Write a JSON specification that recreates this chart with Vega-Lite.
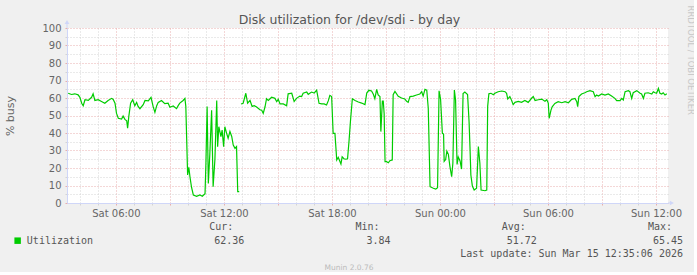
{
  "$schema": "https://vega.github.io/schema/vega-lite/v6.json",
  "background": "#F0F0F0",
  "padding": {"left": 4, "top": 5, "right": 0, "bottom": 0},
  "spacing": 4,
  "config": {
    "font": "DejaVu Sans",
    "view": {"stroke": null},
    "axis": {"labelFont": "DejaVu Sans", "titleFont": "DejaVu Sans", "labelColor": "#666666", "titleColor": "#666666", "labelFontSize": 10, "titleFontWeight": "normal"}
  },
  "vconcat": [
    {
      "width": 601,
      "height": 175,
      "view": {"fill": "#FFFFFF", "stroke": null},
      "title": {"text": "Disk utilization for /dev/sdi - by day", "anchor": "middle", "frame": "bounds", "offset": -21, "fontSize": 12.5, "fontWeight": "normal", "color": "#555555", "font": "DejaVu Sans"},
      "resolve": {"axis": {"x": "independent", "y": "independent"}},
      "layer": [
        {
          "data": {"values": [
            {"t":"2026-03-14T03:21","v":62.7},{"t":"2026-03-14T03:32","v":62.0},{"t":"2026-03-14T03:43","v":62.4},{"t":"2026-03-14T03:54","v":61.8},
            {"t":"2026-03-14T04:00","v":60.4},{"t":"2026-03-14T04:06","v":57.0},{"t":"2026-03-14T04:11","v":55.6},{"t":"2026-03-14T04:17","v":59.0},
            {"t":"2026-03-14T04:28","v":58.6},{"t":"2026-03-14T04:39","v":60.4},{"t":"2026-03-14T04:44","v":62.4},{"t":"2026-03-14T04:50","v":58.6},
            {"t":"2026-03-14T05:01","v":59.0},{"t":"2026-03-14T05:12","v":58.0},{"t":"2026-03-14T05:23","v":57.0},{"t":"2026-03-14T05:34","v":58.6},
            {"t":"2026-03-14T05:46","v":59.8},{"t":"2026-03-14T05:51","v":59.2},{"t":"2026-03-14T05:57","v":57.0},{"t":"2026-03-14T06:02","v":51.2},
            {"t":"2026-03-14T06:08","v":48.4},{"t":"2026-03-14T06:19","v":48.0},{"t":"2026-03-14T06:24","v":49.7},{"t":"2026-03-14T06:30","v":47.8},
            {"t":"2026-03-14T06:36","v":47.0},{"t":"2026-03-14T06:39","v":42.7},{"t":"2026-03-14T06:43","v":49.5},{"t":"2026-03-14T06:49","v":57.0},
            {"t":"2026-03-14T06:56","v":59.0},{"t":"2026-03-14T07:03","v":55.6},{"t":"2026-03-14T07:09","v":57.5},{"t":"2026-03-14T07:14","v":55.2},
            {"t":"2026-03-14T07:20","v":53.9},{"t":"2026-03-14T07:31","v":56.2},{"t":"2026-03-14T07:37","v":58.6},{"t":"2026-03-14T07:48","v":58.4},
            {"t":"2026-03-14T07:57","v":60.4},{"t":"2026-03-14T08:04","v":55.2},{"t":"2026-03-14T08:10","v":51.8},{"t":"2026-03-14T08:16","v":55.6},
            {"t":"2026-03-14T08:21","v":57.5},{"t":"2026-03-14T08:32","v":58.6},{"t":"2026-03-14T08:43","v":56.8},{"t":"2026-03-14T08:54","v":57.0},
            {"t":"2026-03-14T09:00","v":54.7},{"t":"2026-03-14T09:11","v":55.4},{"t":"2026-03-14T09:22","v":53.9},{"t":"2026-03-14T09:28","v":55.8},
            {"t":"2026-03-14T09:33","v":57.1},{"t":"2026-03-14T09:44","v":58.6},{"t":"2026-03-14T09:50","v":59.8},{"t":"2026-03-14T09:53","v":55.2},
            {"t":"2026-03-14T09:59","v":16.0},{"t":"2026-03-14T10:03","v":20.4},{"t":"2026-03-14T10:07","v":14.7},{"t":"2026-03-14T10:12","v":9.0},
            {"t":"2026-03-14T10:18","v":4.6},{"t":"2026-03-14T10:29","v":3.84},{"t":"2026-03-14T10:40","v":4.6},{"t":"2026-03-14T10:48","v":3.9},
            {"t":"2026-03-14T10:57","v":5.3},{"t":"2026-03-14T11:00","v":22.7},{"t":"2026-03-14T11:04","v":55.2},{"t":"2026-03-14T11:08","v":11.2},
            {"t":"2026-03-14T11:13","v":28.0},{"t":"2026-03-14T11:19","v":53.0},{"t":"2026-03-14T11:24","v":9.3},{"t":"2026-03-14T11:30","v":25.0},
            {"t":"2026-03-14T11:36","v":58.6},{"t":"2026-03-14T11:39","v":32.2},{"t":"2026-03-14T11:43","v":43.6},{"t":"2026-03-14T11:50","v":37.9},
            {"t":"2026-03-14T11:54","v":41.7},{"t":"2026-03-14T11:59","v":32.2},{"t":"2026-03-14T12:03","v":43.6},{"t":"2026-03-14T12:09","v":39.8},
            {"t":"2026-03-14T12:14","v":37.0},{"t":"2026-03-14T12:20","v":40.9},{"t":"2026-03-14T12:26","v":38.0},{"t":"2026-03-14T12:31","v":33.1},
            {"t":"2026-03-14T12:37","v":31.2},{"t":"2026-03-14T12:42","v":32.2},{"t":"2026-03-14T12:46","v":6.5},{"t":"2026-03-14T12:51","v":6.5},
            {"t":"2026-03-14T12:54","v":null},
            {"t":"2026-03-14T12:57","v":56.6},{"t":"2026-03-14T13:04","v":57.0},{"t":"2026-03-14T13:13","v":62.7},{"t":"2026-03-14T13:19","v":57.0},
            {"t":"2026-03-14T13:27","v":58.6},{"t":"2026-03-14T13:34","v":55.2},{"t":"2026-03-14T13:41","v":55.6},{"t":"2026-03-14T13:49","v":54.9},
            {"t":"2026-03-14T14:00","v":53.3},{"t":"2026-03-14T14:06","v":53.0},{"t":"2026-03-14T14:11","v":51.2},{"t":"2026-03-14T14:17","v":55.0},
            {"t":"2026-03-14T14:22","v":59.6},{"t":"2026-03-14T14:28","v":58.6},{"t":"2026-03-14T14:39","v":60.4},{"t":"2026-03-14T14:50","v":59.8},
            {"t":"2026-03-14T14:56","v":57.9},{"t":"2026-03-14T15:01","v":59.2},{"t":"2026-03-14T15:07","v":56.6},{"t":"2026-03-14T15:18","v":56.6},
            {"t":"2026-03-14T15:29","v":55.6},{"t":"2026-03-14T15:34","v":62.4},{"t":"2026-03-14T15:46","v":62.7},{"t":"2026-03-14T15:54","v":58.0},
            {"t":"2026-03-14T16:02","v":59.8},{"t":"2026-03-14T16:13","v":61.1},{"t":"2026-03-14T16:19","v":60.8},{"t":"2026-03-14T16:24","v":62.7},
            {"t":"2026-03-14T16:36","v":63.4},{"t":"2026-03-14T16:41","v":62.1},{"t":"2026-03-14T16:52","v":63.4},{"t":"2026-03-14T17:01","v":62.8},
            {"t":"2026-03-14T17:09","v":64.5},{"t":"2026-03-14T17:17","v":57.0},{"t":"2026-03-14T17:26","v":56.6},{"t":"2026-03-14T17:34","v":56.6},
            {"t":"2026-03-14T17:42","v":56.0},{"t":"2026-03-14T17:48","v":58.5},{"t":"2026-03-14T17:53","v":61.5},{"t":"2026-03-14T17:59","v":60.8},
            {"t":"2026-03-14T18:04","v":39.8},{"t":"2026-03-14T18:10","v":39.8},{"t":"2026-03-14T18:16","v":24.6},{"t":"2026-03-14T18:21","v":26.1},
            {"t":"2026-03-14T18:27","v":23.6},{"t":"2026-03-14T18:30","v":22.3},{"t":"2026-03-14T18:34","v":26.4},{"t":"2026-03-14T18:40","v":25.3},
            {"t":"2026-03-14T18:46","v":25.0},{"t":"2026-03-14T18:52","v":25.3},{"t":"2026-03-14T18:57","v":35.6},{"t":"2026-03-14T19:02","v":47.4},
            {"t":"2026-03-14T19:08","v":59.6},{"t":"2026-03-14T19:17","v":58.6},{"t":"2026-03-14T19:28","v":57.7},{"t":"2026-03-14T19:39","v":57.1},
            {"t":"2026-03-14T19:50","v":56.2},{"t":"2026-03-14T19:56","v":62.8},{"t":"2026-03-14T20:03","v":64.4},{"t":"2026-03-14T20:12","v":64.0},
            {"t":"2026-03-14T20:18","v":62.1},{"t":"2026-03-14T20:23","v":59.6},{"t":"2026-03-14T20:29","v":64.9},{"t":"2026-03-14T20:34","v":61.7},
            {"t":"2026-03-14T20:40","v":60.8},{"t":"2026-03-14T20:43","v":40.8},{"t":"2026-03-14T20:48","v":58.3},{"t":"2026-03-14T20:51","v":58.3},
            {"t":"2026-03-14T20:54","v":51.0},{"t":"2026-03-14T20:57","v":23.6},{"t":"2026-03-14T21:02","v":23.6},{"t":"2026-03-14T21:08","v":23.0},
            {"t":"2026-03-14T21:13","v":24.2},{"t":"2026-03-14T21:21","v":24.6},{"t":"2026-03-14T21:24","v":61.9},{"t":"2026-03-14T21:30","v":63.8},
            {"t":"2026-03-14T21:41","v":61.0},{"t":"2026-03-14T21:52","v":60.0},{"t":"2026-03-14T22:03","v":59.4},{"t":"2026-03-14T22:09","v":58.1},
            {"t":"2026-03-14T22:14","v":57.5},{"t":"2026-03-14T22:20","v":60.8},{"t":"2026-03-14T22:31","v":61.1},{"t":"2026-03-14T22:42","v":61.7},
            {"t":"2026-03-14T22:53","v":62.3},{"t":"2026-03-14T22:59","v":63.6},{"t":"2026-03-14T23:04","v":61.1},{"t":"2026-03-14T23:10","v":64.9},
            {"t":"2026-03-14T23:16","v":64.5},{"t":"2026-03-14T23:21","v":54.1},{"t":"2026-03-14T23:27","v":9.3},{"t":"2026-03-14T23:38","v":8.4},
            {"t":"2026-03-14T23:46","v":7.9},{"t":"2026-03-14T23:52","v":8.8},{"t":"2026-03-14T23:57","v":64.1},
            {"t":"2026-03-15T00:02","v":59.4},{"t":"2026-03-15T00:08","v":39.8},{"t":"2026-03-15T00:12","v":39.4},{"t":"2026-03-15T00:14","v":23.8},
            {"t":"2026-03-15T00:19","v":24.8},{"t":"2026-03-15T00:23","v":29.7},{"t":"2026-03-15T00:28","v":27.8},{"t":"2026-03-15T00:33","v":21.1},
            {"t":"2026-03-15T00:39","v":15.0},{"t":"2026-03-15T00:43","v":22.7},{"t":"2026-03-15T00:48","v":64.5},{"t":"2026-03-15T00:52","v":58.8},
            {"t":"2026-03-15T00:57","v":22.0},{"t":"2026-03-15T01:01","v":26.3},{"t":"2026-03-15T01:07","v":24.0},{"t":"2026-03-15T01:12","v":19.4},
            {"t":"2026-03-15T01:17","v":62.5},{"t":"2026-03-15T01:23","v":63.4},{"t":"2026-03-15T01:32","v":62.0},{"t":"2026-03-15T01:37","v":46.5},
            {"t":"2026-03-15T01:40","v":32.2},{"t":"2026-03-15T01:43","v":16.0},{"t":"2026-03-15T01:48","v":9.7},{"t":"2026-03-15T01:54","v":7.4},
            {"t":"2026-03-15T02:02","v":8.4},{"t":"2026-03-15T02:08","v":32.2},{"t":"2026-03-15T02:13","v":22.7},{"t":"2026-03-15T02:17","v":7.4},
            {"t":"2026-03-15T02:30","v":7.0},{"t":"2026-03-15T02:36","v":7.4},{"t":"2026-03-15T02:39","v":55.2},{"t":"2026-03-15T02:43","v":62.4},
            {"t":"2026-03-15T02:50","v":62.7},{"t":"2026-03-15T02:58","v":61.9},{"t":"2026-03-15T03:03","v":62.7},{"t":"2026-03-15T03:14","v":63.6},
            {"t":"2026-03-15T03:26","v":64.0},{"t":"2026-03-15T03:37","v":63.6},{"t":"2026-03-15T03:42","v":62.7},{"t":"2026-03-15T03:46","v":59.4},
            {"t":"2026-03-15T03:53","v":60.8},{"t":"2026-03-15T03:59","v":58.5},{"t":"2026-03-15T04:04","v":56.2},{"t":"2026-03-15T04:10","v":57.5},
            {"t":"2026-03-15T04:21","v":58.1},{"t":"2026-03-15T04:32","v":57.5},{"t":"2026-03-15T04:43","v":58.6},{"t":"2026-03-15T04:54","v":57.5},
            {"t":"2026-03-15T05:06","v":60.0},{"t":"2026-03-15T05:11","v":60.8},{"t":"2026-03-15T05:17","v":58.6},{"t":"2026-03-15T05:28","v":59.0},
            {"t":"2026-03-15T05:39","v":59.4},{"t":"2026-03-15T05:50","v":58.1},{"t":"2026-03-15T05:56","v":59.0},{"t":"2026-03-15T06:01","v":57.1},
            {"t":"2026-03-15T06:04","v":48.4},{"t":"2026-03-15T06:10","v":53.1},{"t":"2026-03-15T06:14","v":55.0},{"t":"2026-03-15T06:23","v":56.9},
            {"t":"2026-03-15T06:34","v":57.9},{"t":"2026-03-15T06:46","v":57.3},{"t":"2026-03-15T06:57","v":57.9},{"t":"2026-03-15T07:08","v":57.3},
            {"t":"2026-03-15T07:19","v":59.2},{"t":"2026-03-15T07:30","v":59.8},{"t":"2026-03-15T07:36","v":57.9},{"t":"2026-03-15T07:39","v":55.0},
            {"t":"2026-03-15T07:43","v":60.8},{"t":"2026-03-15T07:52","v":62.3},{"t":"2026-03-15T08:03","v":63.0},{"t":"2026-03-15T08:09","v":63.6},
            {"t":"2026-03-15T08:20","v":64.2},{"t":"2026-03-15T08:31","v":63.6},{"t":"2026-03-15T08:37","v":60.8},{"t":"2026-03-15T08:42","v":61.7},
            {"t":"2026-03-15T08:48","v":61.1},{"t":"2026-03-15T08:59","v":62.3},{"t":"2026-03-15T09:10","v":61.7},{"t":"2026-03-15T09:21","v":62.3},
            {"t":"2026-03-15T09:32","v":61.1},{"t":"2026-03-15T09:43","v":59.8},{"t":"2026-03-15T09:49","v":58.5},{"t":"2026-03-15T10:00","v":58.5},
            {"t":"2026-03-15T10:06","v":59.8},{"t":"2026-03-15T10:11","v":58.9},{"t":"2026-03-15T10:17","v":63.6},{"t":"2026-03-15T10:28","v":64.2},
            {"t":"2026-03-15T10:33","v":63.6},{"t":"2026-03-15T10:39","v":59.8},{"t":"2026-03-15T10:44","v":63.0},{"t":"2026-03-15T10:56","v":64.2},
            {"t":"2026-03-15T11:07","v":62.7},{"t":"2026-03-15T11:12","v":62.3},{"t":"2026-03-15T11:18","v":59.8},{"t":"2026-03-15T11:23","v":62.7},
            {"t":"2026-03-15T11:34","v":63.0},{"t":"2026-03-15T11:46","v":62.3},{"t":"2026-03-15T11:51","v":63.6},{"t":"2026-03-15T11:57","v":63.0},
            {"t":"2026-03-15T12:02","v":62.7},{"t":"2026-03-15T12:08","v":65.45},{"t":"2026-03-15T12:13","v":62.7},{"t":"2026-03-15T12:19","v":62.3},
            {"t":"2026-03-15T12:24","v":63.0},{"t":"2026-03-15T12:30","v":61.7},{"t":"2026-03-15T12:36","v":62.36}
          ]},
          "mark": {"type": "line", "color": "#00CC00", "strokeWidth": 1.2, "interpolate": "linear"},
          "encoding": {
            "x": {
              "field": "t", "type": "temporal",
              "scale": {"domain": [{"year": 2026, "month": 3, "date": 14, "hours": 3, "minutes": 17}, {"year": 2026, "month": 3, "date": 15, "hours": 12, "minutes": 40}], "nice": false},
              "axis": {
                "title": null,
                "format": "%a %H:%M",
                "values": [
                  {"year": 2026, "month": 3, "date": 14, "hours": 4}, {"year": 2026, "month": 3, "date": 14, "hours": 5},
                  {"year": 2026, "month": 3, "date": 14, "hours": 6}, {"year": 2026, "month": 3, "date": 14, "hours": 7},
                  {"year": 2026, "month": 3, "date": 14, "hours": 8}, {"year": 2026, "month": 3, "date": 14, "hours": 9},
                  {"year": 2026, "month": 3, "date": 14, "hours": 10}, {"year": 2026, "month": 3, "date": 14, "hours": 11},
                  {"year": 2026, "month": 3, "date": 14, "hours": 12}, {"year": 2026, "month": 3, "date": 14, "hours": 13},
                  {"year": 2026, "month": 3, "date": 14, "hours": 14}, {"year": 2026, "month": 3, "date": 14, "hours": 15},
                  {"year": 2026, "month": 3, "date": 14, "hours": 16}, {"year": 2026, "month": 3, "date": 14, "hours": 17},
                  {"year": 2026, "month": 3, "date": 14, "hours": 18}, {"year": 2026, "month": 3, "date": 14, "hours": 19},
                  {"year": 2026, "month": 3, "date": 14, "hours": 20}, {"year": 2026, "month": 3, "date": 14, "hours": 21},
                  {"year": 2026, "month": 3, "date": 14, "hours": 22}, {"year": 2026, "month": 3, "date": 14, "hours": 23},
                  {"year": 2026, "month": 3, "date": 15, "hours": 0}, {"year": 2026, "month": 3, "date": 15, "hours": 1},
                  {"year": 2026, "month": 3, "date": 15, "hours": 2}, {"year": 2026, "month": 3, "date": 15, "hours": 3},
                  {"year": 2026, "month": 3, "date": 15, "hours": 4}, {"year": 2026, "month": 3, "date": 15, "hours": 5},
                  {"year": 2026, "month": 3, "date": 15, "hours": 6}, {"year": 2026, "month": 3, "date": 15, "hours": 7},
                  {"year": 2026, "month": 3, "date": 15, "hours": 8}, {"year": 2026, "month": 3, "date": 15, "hours": 9},
                  {"year": 2026, "month": 3, "date": 15, "hours": 10}, {"year": 2026, "month": 3, "date": 15, "hours": 11},
                  {"year": 2026, "month": 3, "date": 15, "hours": 12}
                ],
                "labelExpr": "hours(datum.value) % 6 === 0 ? datum.label : ''",
                "labelOverlap": false, "labelFlush": false, "labelBound": false,
                "grid": true,
                "gridColor": {"condition": {"test": "hours(datum.value) % 3 === 0", "value": "#E8AEAE"}, "value": "#D4D4D4"},
                "gridDash": [1, 2],
                "tickSize": 2,
                "tickColor": {"condition": {"test": "hours(datum.value) % 3 === 0", "value": "#E8AEAE"}, "value": "#D4D4D4"},
                "domainColor": "#CFD6F8",
                "labelPadding": 3
              }
            },
            "y": {
              "field": "v", "type": "quantitative",
              "scale": {"domain": [0, 100], "nice": false},
              "axis": {
                "title": "% busy",
                "titleFontSize": 11,
                "titlePadding": 26,
                "values": [0, 5, 10, 15, 20, 25, 30, 35, 40, 45, 50, 55, 60, 65, 70, 75, 80, 85, 90, 95, 100],
                "labelExpr": "datum.value % 10 === 0 ? datum.label : ''",
                "labelOverlap": false, "labelFlush": false, "labelBound": false,
                "grid": true,
                "gridColor": {"condition": {"test": "datum.value % 10 === 0", "value": "#E8AEAE"}, "value": "#D4D4D4"},
                "gridDash": [1, 2],
                "tickSize": 2,
                "tickColor": {"condition": {"test": "datum.value % 10 === 0", "value": "#E8AEAE"}, "value": "#D4D4D4"},
                "domainColor": "#CFD6F8",
                "labelPadding": 4
              }
            }
          }
        },
        {
          "data": {"values": [{"k": 0}]},
          "mark": {"type": "rule", "color": "#CFD6F8", "strokeWidth": 1},
          "encoding": {
            "x": {"datum": {"year": 2026, "month": 3, "date": 14, "hours": 3, "minutes": 17}, "type": "temporal", "axis": null},
            "y": {"datum": 100, "type": "quantitative", "axis": null},
            "y2": {"datum": 102.5}
          }
        },
        {
          "data": {"values": [{"k": 0}]},
          "mark": {"type": "point", "shape": "triangle-up", "filled": true, "size": 22, "color": "#CFD6F8", "opacity": 1},
          "encoding": {
            "x": {"datum": {"year": 2026, "month": 3, "date": 14, "hours": 3, "minutes": 17}, "type": "temporal", "axis": null},
            "y": {"datum": 103.4, "type": "quantitative", "axis": null}
          }
        },
        {
          "data": {"values": [{"k": 0}]},
          "mark": {"type": "rule", "color": "#CFD6F8", "strokeWidth": 1},
          "encoding": {
            "x": {"datum": {"year": 2026, "month": 3, "date": 15, "hours": 12, "minutes": 40}, "type": "temporal", "axis": null},
            "x2": {"datum": {"year": 2026, "month": 3, "date": 15, "hours": 12, "minutes": 51}},
            "y": {"datum": 0, "type": "quantitative", "axis": null}
          }
        },
        {
          "data": {"values": [{"k": 0}]},
          "mark": {"type": "point", "shape": "triangle-right", "filled": true, "size": 22, "color": "#CFD6F8", "opacity": 1},
          "encoding": {
            "x": {"datum": {"year": 2026, "month": 3, "date": 15, "hours": 12, "minutes": 53}, "type": "temporal", "axis": null},
            "y": {"datum": 0, "type": "quantitative", "axis": null}
          }
        },
        {
          "data": {"values": [{"k": 0}]},
          "mark": {"type": "rule", "opacity": 0},
          "encoding": {
            "y": {
              "datum": 0, "type": "quantitative",
              "axis": {"orient": "right", "labels": false, "ticks": false, "domain": false, "grid": false,
                       "title": "RRDTOOL / TOBI OETIKER", "titleAngle": 90, "titleFontSize": 8.5, "titleColor": "#C8C8C8",
                       "titleAlign": "left", "titleBaseline": "middle", "titleY": -23, "titleX": 22}
            }
          }
        }
      ]
    },
    {
      "width": 616,
      "height": 41,
      "view": {"fill": null, "stroke": null},
      "data": {"values": [
        {"role": "head", "label": "Cur:", "col": 1, "row": 0},
        {"role": "head", "label": "Min:", "col": 2, "row": 0},
        {"role": "head", "label": "Avg:", "col": 3, "row": 0},
        {"role": "head", "label": "Max:", "col": 4, "row": 0},
        {"role": "stat", "label": "62.36", "col": 1, "row": 1},
        {"role": "stat", "label": "3.84", "col": 2, "row": 1},
        {"role": "stat", "label": "51.72", "col": 3, "row": 1},
        {"role": "stat", "label": "65.45", "col": 4, "row": 1},
        {"role": "stat", "label": "Last update: Sun Mar 15 12:35:06 2026", "col": 4, "row": 2},
        {"role": "name", "label": "Utilization", "col": -0.488, "row": 1},
        {"role": "swatch", "label": "Utilization", "col": -0.551, "row": 1},
        {"role": "version", "label": "Munin 2.0.76", "col": 1.7155, "row": 3}
      ]},
      "encoding": {
        "x": {"field": "col", "type": "quantitative", "scale": {"domain": [-0.2134, 4], "nice": false, "zero": false}, "axis": null},
        "y": {"field": "row", "type": "quantitative", "scale": {"domain": [0, 3], "reverse": true, "nice": false, "zero": false}, "axis": null}
      },
      "layer": [
        {
          "transform": [{"filter": "datum.role === 'head'"}],
          "mark": {"type": "text", "align": "right", "baseline": "middle", "dx": -11, "font": "DejaVu Sans Mono", "fontSize": 10, "color": "#555555"},
          "encoding": {"text": {"field": "label"}}
        },
        {
          "transform": [{"filter": "datum.role === 'stat'"}],
          "mark": {"type": "text", "align": "right", "baseline": "middle", "font": "DejaVu Sans Mono", "fontSize": 10, "color": "#555555"},
          "encoding": {"text": {"field": "label"}}
        },
        {
          "transform": [{"filter": "datum.role === 'name'"}],
          "mark": {"type": "text", "align": "left", "baseline": "middle", "font": "DejaVu Sans Mono", "fontSize": 10, "color": "#555555"},
          "encoding": {"text": {"field": "label"}}
        },
        {
          "transform": [{"filter": "datum.role === 'swatch'"}],
          "mark": {"type": "point", "shape": "square", "filled": true, "size": 42, "color": "#00CC00", "opacity": 1}
        },
        {
          "transform": [{"filter": "datum.role === 'version'"}],
          "mark": {"type": "text", "align": "center", "baseline": "middle", "font": "DejaVu Sans", "fontSize": 7.5, "color": "#BBBBBB"},
          "encoding": {"text": {"field": "label"}}
        }
      ]
    }
  ]
}
